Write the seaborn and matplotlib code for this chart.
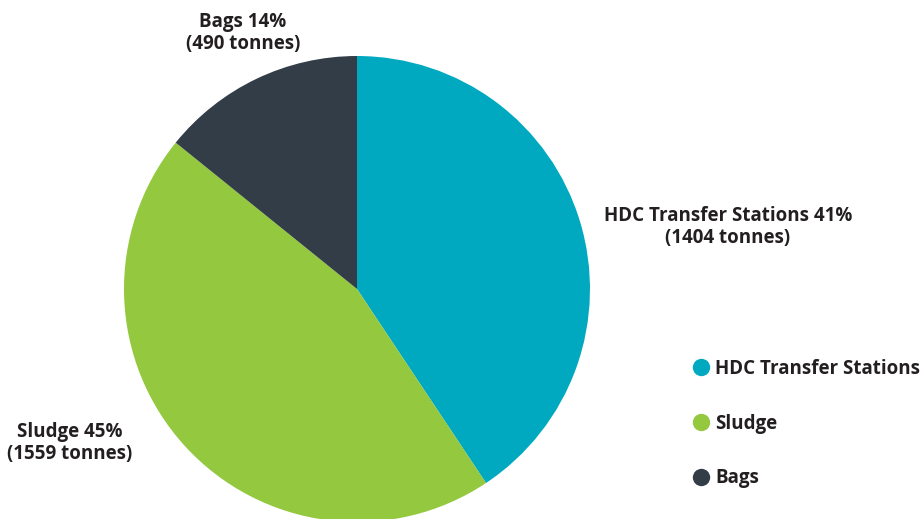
import matplotlib
matplotlib.use("Agg")
import matplotlib.pyplot as plt
from matplotlib.lines import Line2D
import seaborn as sns

# Data
categories = ["HDC Transfer Stations", "Sludge", "Bags"]
tonnes = [1404, 1559, 490]
colors = ["#00A9BF", "#93C83F", "#333D48"]

sns.set_theme(style="white")
plt.rcParams["font.family"] = ["Open Sans", "DejaVu Sans"]
TEXT = "#231F20"

W, H = 922, 519
fig = plt.figure(figsize=(W / 100, H / 100), dpi=100)
ax = fig.add_axes([0, 0, 1, 1])

# pixel-based coordinates (y measured from bottom)
cx, cy, r = 357, H - 289, 233
wedges, _ = ax.pie(tonnes, colors=colors, startangle=90, counterclock=False,
                   center=(cx, cy), radius=r,
                   wedgeprops=dict(linewidth=0))
ax.set_xlim(0, W)
ax.set_ylim(0, H)
ax.set_aspect("equal")
ax.axis("off")

total = sum(tonnes)
label_pos = {"HDC Transfer Stations": (728, 227),
             "Sludge": (70, 443),
             "Bags": (243, 33)}
for name, t in zip(categories, tonnes):
    x, y = label_pos[name]
    pct = round(100 * t / total)
    ax.text(x, H - y, f"{name} {pct}%\n({t} tonnes)", ha="center", va="center",
            fontsize=13.5, fontweight="bold", color=TEXT, linespacing=1.15)

handles = [Line2D([0], [0], marker="o", linestyle="", markersize=12.5,
                  markerfacecolor=c, markeredgewidth=0) for c in colors]
leg = ax.legend(handles, categories, loc="upper left",
                bbox_to_anchor=(673 / W, 1 - 342 / H), frameon=False,
                handletextpad=0.15, labelspacing=1.85, handlelength=1.2,
                prop=dict(size=13.5, weight="bold"))
for t in leg.get_texts():
    t.set_color(TEXT)

fig.savefig("out.png", dpi=100)
